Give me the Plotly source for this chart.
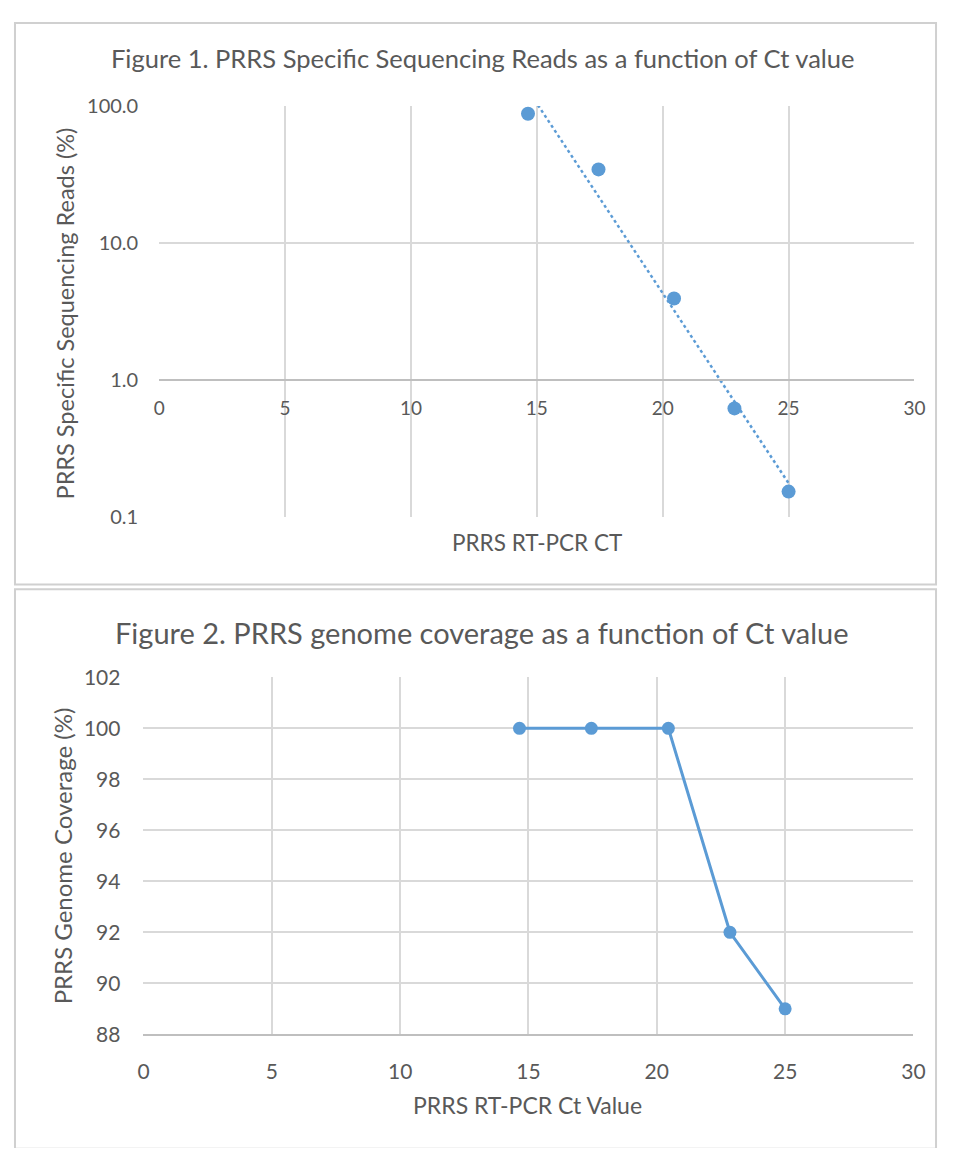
import numpy as np
import plotly.graph_objects as go

# ---- data ----
ct_values = [14.65, 17.45, 20.45, 22.85, 25.0]
specific_reads_pct = [88.0, 34.5, 3.94, 0.62, 0.153]
genome_coverage_pct = [100, 100, 100, 92, 89]

x_ticks = [0, 5, 10, 15, 20, 25, 30]
y1_tickvals = [0.1, 1, 10, 100]
y1_ticktext = ["0.1", "1.0", "10.0", "100.0"]
y2_ticks = [88, 90, 92, 94, 96, 98, 100, 102]

title1 = "Figure 1. PRRS Specific Sequencing Reads as a function of Ct value"
title2 = "Figure 2. PRRS genome coverage as a function of Ct value"
ytitle1 = "PRRS Specific Sequencing Reads (%)"
xtitle1 = "PRRS RT-PCR CT"
ytitle2 = "PRRS Genome Coverage (%)"
xtitle2 = "PRRS RT-PCR Ct Value"

# exponential trendline (least squares on log10)
slope, intercept = np.polyfit(ct_values, np.log10(specific_reads_pct), 1)
trend_x = np.linspace(min(ct_values), max(ct_values), 60)
trend_y = 10 ** (slope * trend_x + intercept)

# page is 958x1156; body has default 8px margin, so figure is 942x1140
OFF = 8
W, H = 958 - 2 * OFF, 1156 - 2 * OFF
BLUE = "#5b9bd5"
TXT = "#595959"
GRID = "#d9d9d9"
FONT = "Lato"

def px_x(p):
    return (p - OFF) / W

def px_y(p):
    return 1 - (p - OFF) / H

fig = go.Figure()

fig.add_trace(go.Scatter(x=trend_x, y=trend_y, mode="lines",
                         line=dict(color=BLUE, width=2.5, dash="dot"),
                         xaxis="x", yaxis="y", showlegend=False, hoverinfo="skip"))
fig.add_trace(go.Scatter(x=ct_values, y=specific_reads_pct, mode="markers",
                         marker=dict(color=BLUE, size=14),
                         xaxis="x", yaxis="y", showlegend=False))
fig.add_trace(go.Scatter(x=ct_values, y=genome_coverage_pct, mode="lines+markers",
                         line=dict(color=BLUE, width=3),
                         marker=dict(color=BLUE, size=13),
                         xaxis="x2", yaxis="y2", showlegend=False))

fig.update_layout(
    width=W, height=H,
    margin=dict(l=0, r=0, t=0, b=0),
    paper_bgcolor="white", plot_bgcolor="white",
    font=dict(family=FONT, color=TXT),
    xaxis=dict(domain=[px_x(156), px_x(926)], range=[0, 30], tickvals=x_ticks,
               anchor="free", position=px_y(374),
               showline=True, linecolor="#bfbfbf", linewidth=1.5,
               showgrid=True, gridcolor=GRID, gridwidth=1.5,
               zeroline=False, ticks="", tickfont=dict(family=FONT, size=19, color=TXT),
               ticklabelstandoff=11),
    yaxis=dict(domain=[px_y(514), px_y(94)], type="log", range=[-1, 2],
               tickvals=y1_tickvals, ticktext=y1_ticktext,
               showgrid=True, gridcolor=GRID, gridwidth=1.5, showline=False,
               zeroline=False, ticks="", tickfont=dict(family=FONT, size=20, color=TXT),
               ticklabelstandoff=20),
    xaxis2=dict(domain=[px_x(140), px_x(925)], range=[0, 30], tickvals=x_ticks,
                anchor="y2", showline=True, linecolor="#bfbfbf", linewidth=1.5,
                showgrid=True, gridcolor=GRID, gridwidth=1.5,
                zeroline=False, ticks="", tickfont=dict(family=FONT, size=21, color=TXT),
                ticklabelstandoff=18),
    yaxis2=dict(domain=[px_y(1043), px_y(678)], range=[88, 102], tickvals=y2_ticks,
                anchor="x2", showgrid=True, gridcolor=GRID, gridwidth=1.5,
                showline=False, zeroline=False, ticks="",
                tickfont=dict(family=FONT, size=21, color=TXT), ticklabelstandoff=22),
)

# chart frames
fig.add_shape(type="rect", xref="paper", yref="paper",
              x0=px_x(9), x1=px_x(948), y0=px_y(583), y1=px_y(9),
              line=dict(color="#d0d0d0", width=2), fillcolor="rgba(0,0,0,0)")
fig.add_shape(type="rect", xref="paper", yref="paper",
              x0=px_x(9), x1=px_x(948), y0=px_y(1160), y1=px_y(588),
              line=dict(color="#d0d0d0", width=2), fillcolor="rgba(0,0,0,0)")

ann = [
    dict(text=title1, x=px_x(486), y=px_y(45), size=25.5),
    dict(text=title2, x=px_x(485), y=px_y(632), size=29),
    dict(text=xtitle1, x=px_x(541), y=px_y(540), size=22.5),
    dict(text=xtitle2, x=px_x(532), y=px_y(1115), size=23),
]
for a in ann:
    fig.add_annotation(text=a["text"], x=a["x"], y=a["y"], xref="paper", yref="paper",
                       showarrow=False, xanchor="center", yanchor="middle",
                       font=dict(family=FONT, size=a["size"], color=TXT))
fig.add_annotation(text=ytitle1, x=px_x(60), y=px_y(306), xref="paper", yref="paper",
                   showarrow=False, textangle=-90, xanchor="center", yanchor="middle",
                   font=dict(family=FONT, size=23.5, color=TXT))
fig.add_annotation(text=ytitle2, x=px_x(57), y=px_y(861), xref="paper", yref="paper",
                   showarrow=False, textangle=-90, xanchor="center", yanchor="middle",
                   font=dict(family=FONT, size=24, color=TXT))

fig.write_html("out.html", config={"displayModeBar": False})
